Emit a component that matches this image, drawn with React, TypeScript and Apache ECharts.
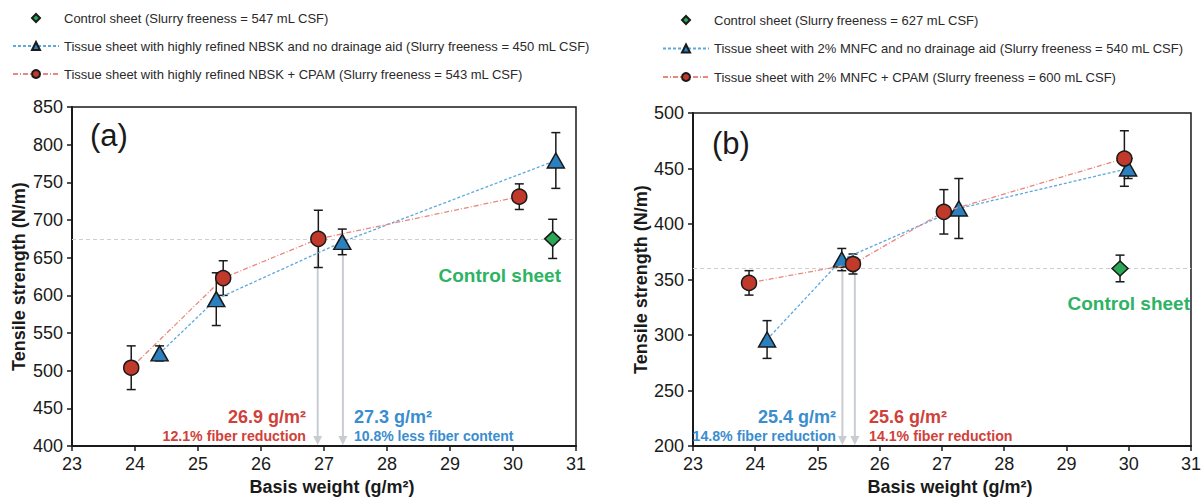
import React, { useEffect, useRef } from "react";
import * as echarts from "echarts";

const FONT = "'Liberation Sans', Arial, Helvetica, sans-serif";

// ---------- data: panel (a) ----------  [basis weight, tensile, error]
const aControl = [[30.63, 675, 26]];
const aBlue = [[24.39, 523, 10], [25.29, 595, 35], [27.29, 671, 17], [30.68, 779, 37]];
const aRed = [[23.94, 504, 29], [25.4, 623, 23], [26.91, 675, 38], [30.1, 731, 17]];
const aArrows = [[26.9, 675], [27.3, 671]];
const aRefLine = 675;
const aNames = [
  "Control sheet (Slurry freeness = 547 mL CSF)",
  "Tissue sheet with highly refined NBSK and no drainage aid (Slurry freeness = 450 mL CSF)",
  "Tissue sheet with highly refined NBSK + CPAM (Slurry freeness = 543 mL CSF)",
];

// ---------- data: panel (b) ----------
const bControl = [[29.86, 360, 12]];
const bBlue = [[24.19, 296, 17], [25.39, 368, 10], [27.27, 414, 27], [29.99, 450, 9]];
const bRed = [[23.9, 347, 11], [25.57, 364, 9], [27.03, 411, 20], [29.93, 459, 25]];
const bArrows = [[25.4, 368], [25.6, 364]];
const bRefLine = 360;
const bNames = [
  "Control sheet (Slurry freeness = 627 mL CSF)",
  "Tissue sheet with 2% MNFC and no drainage aid (Slurry freeness = 540 mL CSF)",
  "Tissue sheet with 2% MNFC + CPAM (Slurry freeness = 600 mL CSF)",
];

const xRange = [23, 31];
const aYRange = [400, 850];
const bYRange = [200, 500];

const xTitle = "Basis weight (g/m²)";
const yTitle = "Tensile strength (N/m)";

const GREEN = "#2AA757";
const BLUE = "#2B80C0";
const RED = "#C0392B";
const RED_TXT = "#D0413A";
const BLUE_TXT = "#3A8DCF";
const GREEN_TXT = "#2DB363";
const INK = "#1a1a1a";

function xAxisCfg(gi: number) {
  return {
    type: "value",
    gridIndex: gi,
    min: xRange[0],
    max: xRange[1],
    interval: 1,
    axisLine: { show: true, lineStyle: { color: INK, width: 2 } },
    axisTick: { show: true, inside: false, length: 5, lineStyle: { color: INK, width: 1.5 } },
    axisLabel: { fontSize: 18, color: INK, margin: 9, fontFamily: FONT },
    splitLine: { show: false },
    name: xTitle,
    nameLocation: "middle",
    nameGap: 28,
    nameTextStyle: { fontSize: 18, fontWeight: "bold", color: INK, fontFamily: FONT, padding: [0, 0, 0, 16] },
  };
}

function yAxisCfg(gi: number, r: number[], gap: number) {
  return {
    type: "value",
    gridIndex: gi,
    min: r[0],
    max: r[1],
    interval: 50,
    axisLine: { show: true, lineStyle: { color: INK, width: 2 } },
    axisTick: { show: true, inside: false, length: 5, lineStyle: { color: INK, width: 1.5 } },
    axisLabel: { fontSize: 18, color: INK, margin: 9, fontFamily: FONT },
    splitLine: { show: false },
    name: yTitle,
    nameLocation: "middle",
    nameRotate: 90,
    nameGap: gap,
    nameTextStyle: { fontSize: 18, fontWeight: "bold", color: INK, fontFamily: FONT },
  };
}

function pointSeries(gi: number, names: string[], ctrl: number[][], blue: number[][], red: number[][], ref: number) {
  const border = { borderColor: INK, borderWidth: 1.5 };
  return [
    {
      type: "line",
      name: names[0],
      xAxisIndex: gi,
      yAxisIndex: gi,
      data: ctrl.map((d) => [d[0], d[1]]),
      symbol: "diamond",
      symbolSize: [16, 15],
      itemStyle: { color: GREEN, ...border },
      lineStyle: { width: 0, opacity: 0 },
      z: 5,
      markLine: {
        silent: true,
        symbol: "none",
        label: { show: false },
        lineStyle: { color: "#cfcfcf", type: [4, 3], width: 1 },
        data: [{ yAxis: ref }],
      },
    },
    {
      type: "line",
      name: names[1],
      xAxisIndex: gi,
      yAxisIndex: gi,
      data: blue.map((d) => [d[0], d[1]]),
      symbol: "triangle",
      symbolSize: [17, 15],
      itemStyle: { color: BLUE, ...border },
      lineStyle: { color: "#5DA9DD", width: 1.3, type: [3, 2] },
      z: 5,
    },
    {
      type: "line",
      name: names[2],
      xAxisIndex: gi,
      yAxisIndex: gi,
      data: red.map((d) => [d[0], d[1]]),
      symbol: "circle",
      symbolSize: 15,
      itemStyle: { color: RED, ...border },
      lineStyle: { color: "#E8887F", width: 1.3, type: [5, 2, 1, 2] },
      z: 6,
    },
  ];
}

function errorSeries(gi: number, pts: number[][]) {
  return {
    type: "custom",
    xAxisIndex: gi,
    yAxisIndex: gi,
    silent: true,
    z: 3,
    data: pts.map(([x, y, e]) => [x, y - e, y + e]),
    encode: { x: 0, y: [1, 2] },
    renderItem: (_p: any, api: any) => {
      const lo = api.coord([api.value(0), api.value(1)]);
      const hi = api.coord([api.value(0), api.value(2)]);
      const w = 4.5;
      const style = { stroke: INK, lineWidth: 1.5 };
      return {
        type: "group",
        children: [
          { type: "line", shape: { x1: lo[0], y1: lo[1], x2: hi[0], y2: hi[1] }, style },
          { type: "line", shape: { x1: lo[0] - w, y1: lo[1], x2: lo[0] + w, y2: lo[1] }, style },
          { type: "line", shape: { x1: hi[0] - w, y1: hi[1], x2: hi[0] + w, y2: hi[1] }, style },
        ],
      };
    },
  };
}

function arrowSeries(gi: number, pts: number[][], yMin: number) {
  return {
    type: "custom",
    xAxisIndex: gi,
    yAxisIndex: gi,
    silent: true,
    z: 1,
    data: pts,
    encode: { x: 0, y: 1 },
    renderItem: (_p: any, api: any) => {
      const top = api.coord([api.value(0), api.value(1)]);
      const bot = api.coord([api.value(0), yMin]);
      const hh = 10;
      const hw = 4.5;
      const c = "#C9CDD2";
      return {
        type: "group",
        children: [
          { type: "line", shape: { x1: top[0], y1: top[1], x2: bot[0], y2: bot[1] - hh }, style: { stroke: c, lineWidth: 2 } },
          {
            type: "polygon",
            shape: { points: [[bot[0] - hw, bot[1] - hh], [bot[0] + hw, bot[1] - hh], [bot[0], bot[1] - 1]] },
            style: { fill: c },
          },
        ],
      };
    },
  };
}

function txt(x: number, y: number, text: string, fill: string, size: number, weight: string, align: string) {
  return {
    type: "text",
    x,
    y,
    silent: true,
    z: 10,
    style: { text, fill, font: `${weight} ${size}px ${FONT}`, align, verticalAlign: "middle" },
  };
}

function legendCfg(left: number, top: number, gap: number, names: string[]) {
  return {
    left,
    top,
    orient: "vertical",
    padding: 0,
    itemWidth: 46,
    itemHeight: 10,
    itemGap: gap,
    selectedMode: false,
    textStyle: { fontSize: 13, color: "#2a2a2a", fontFamily: FONT, lineHeight: 13 },
    data: names,
  };
}

export default function App() {
  const ref = useRef<HTMLDivElement>(null);
  useEffect(() => {
    const chart = echarts.init(ref.current!, null, { renderer: "svg" });
    const option: any = {
      animation: false,
      backgroundColor: "#fff",
      legend: [legendCfg(12, 11.5, 15, aNames), legendCfg(662, 13.5, 15.5, bNames)],
      grid: [
        { left: 72, top: 107, width: 504, height: 345, show: true, borderColor: INK, borderWidth: 1.5, backgroundColor: "transparent" },
        { left: 693, top: 113, width: 503, height: 339, show: true, borderColor: INK, borderWidth: 1.5, backgroundColor: "transparent" },
      ],
      xAxis: [xAxisCfg(0), xAxisCfg(1)],
      yAxis: [yAxisCfg(0, aYRange, 44), yAxisCfg(1, bYRange, 42)],
      series: [
        arrowSeries(0, aArrows, aYRange[0]),
        errorSeries(0, [...aControl, ...aBlue, ...aRed]),
        ...pointSeries(0, aNames, aControl, aBlue, aRed, aRefLine),
        arrowSeries(1, bArrows, bYRange[0]),
        errorSeries(1, [...bControl, ...bBlue, ...bRed]),
        ...pointSeries(1, bNames, bControl, bBlue, bRed, bRefLine),
      ],
      graphic: [
        txt(90, 135, "(a)", INK, 31, "normal", "left"),
        txt(712, 143, "(b)", INK, 31, "normal", "left"),
        txt(561, 275, "Control sheet", GREEN_TXT, 19, "bold", "right"),
        txt(1190, 303, "Control sheet", GREEN_TXT, 19, "bold", "right"),
        txt(306, 417, "26.9 g/m²", RED_TXT, 18, "bold", "right"),
        txt(306, 436, "12.1% fiber reduction", RED_TXT, 14.2, "bold", "right"),
        txt(354, 417, "27.3 g/m²", BLUE_TXT, 18, "bold", "left"),
        txt(354, 436, "10.8% less fiber content", BLUE_TXT, 14, "bold", "left"),
        txt(836, 417, "25.4 g/m²", BLUE_TXT, 18, "bold", "right"),
        txt(836, 436, "14.8% fiber reduction", BLUE_TXT, 14.2, "bold", "right"),
        txt(869, 417, "25.6 g/m²", RED_TXT, 18, "bold", "left"),
        txt(869, 436, "14.1% fiber reduction", RED_TXT, 14.2, "bold", "left"),
      ],
    };
    chart.setOption(option);
    return () => chart.dispose();
  }, []);
  return (
    <div
      ref={ref}
      style={{ position: "fixed", left: 0, top: 0, width: 1204, height: 501, background: "#fff" }}
    />
  );
}
